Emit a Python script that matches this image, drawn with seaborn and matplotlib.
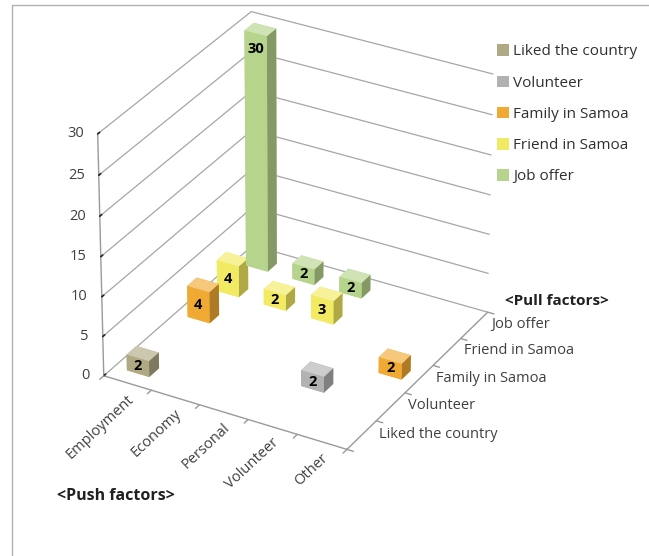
import matplotlib
matplotlib.use("Agg")
import matplotlib.pyplot as plt
from matplotlib.patches import Rectangle, Patch
from matplotlib.transforms import ScaledTranslation
import matplotlib.colors as mcolors
from mpl_toolkits.mplot3d import proj3d
import numpy as np
import pandas as pd
import seaborn as sns

# Categories
push_factors = ["Employment", "Economy", "Personal", "Volunteer", "Other"]
pull_factors = ["Liked the country", "Volunteer", "Family in Samoa",
                "Friend in Samoa", "Job offer"]

# Non-empty cells: push factor, pull factor, number of respondents
bar_push = ["Employment", "Employment", "Employment", "Employment",
            "Economy", "Economy", "Personal", "Personal",
            "Volunteer", "Other"]
bar_pull = ["Liked the country", "Family in Samoa", "Friend in Samoa", "Job offer",
            "Friend in Samoa", "Job offer", "Friend in Samoa", "Job offer",
            "Volunteer", "Family in Samoa"]
counts = [2, 4, 4, 30, 2, 2, 3, 2, 2, 2]

z_ticks = [0, 5, 10, 15, 20, 25, 30]

df = pd.DataFrame({"push": bar_push, "pull": bar_pull, "count": counts})

sns.set_theme(style="white")
plt.rcParams["font.family"] = ["Open Sans", "DejaVu Sans"]

palette = dict(zip(pull_factors, sns.color_palette(
    ["#b0aa84", "#b2b2b2", "#f0aa34", "#f2ea62", "#b7d48c"])))


def mix(c, other, t):
    c = np.array(mcolors.to_rgb(c))
    return tuple(c * (1 - t) + np.array(other) * t)


def face_colors(c):
    # bottom, top, front, back, left, right
    top = mix(c, (1, 1, 1), 0.35)
    front = mcolors.to_rgb(c)
    side = mix(c, (0, 0, 0), 0.28)
    return [front, top, front, front, front, side]


fig = plt.figure(figsize=(6.49, 5.56), dpi=100)
fig.patch.set_facecolor("white")

ax = fig.add_axes([0.0176, 0.081, 0.86, 1.0], projection="3d")
ax.set_proj_type("persp", focal_length=1.5)
ax.view_init(elev=29.8, azim=-60.6)
ax.set_box_aspect((0.93, 1.0, 0.923), zoom=0.862)

ax.set_xlim(0, 5)
ax.set_ylim(0, 5)
ax.set_zlim(0, 30)

bw, bd = 0.47, 0.32
for _, row in df.iterrows():
    xi = push_factors.index(row["push"]) + 0.5
    yi = pull_factors.index(row["pull"]) + 0.5
    h = row["count"]
    ax.bar3d(xi - bw / 2, yi - bd / 2, 0, bw, bd, h,
             color=face_colors(palette[row["pull"]]), shade=False,
             edgecolor="none")

M = ax.get_proj()


def screen_pos(x, y, z):
    px, py, _ = proj3d.proj_transform(x, y, z, M)
    return px, py


def shifted(dx_px, dy_px):
    # pixel offset (y positive = up) on top of the projected data position
    return ax.transData + ScaledTranslation(dx_px / 100, dy_px / 100,
                                            fig.dpi_scale_trans)


# Value labels on the front face of each bar
for _, row in df.iterrows():
    xi = push_factors.index(row["push"]) + 0.5
    yi = pull_factors.index(row["pull"]) + 0.5
    h = row["count"]
    px, py = screen_pos(xi, yi - bd / 2, max(h / 2, h - 2.0))
    ax.text2D(px, py, str(h), transform=ax.transData,
              ha="center", va="center", fontsize=10.5, fontweight="bold",
              color="black", zorder=100)

# Category labels along the two floor axes, value labels up the wall
for i, name in enumerate(push_factors):
    px, py = screen_pos(i + 0.5, 0, 0)
    ax.text2D(px, py, name, transform=shifted(4, -14), rotation=43,
              rotation_mode="anchor", ha="right", va="center",
              fontsize=10.5, color="#404040")
for j, name in enumerate(pull_factors):
    px, py = screen_pos(5, j + 0.5, 0)
    ax.text2D(px, py, name, transform=shifted(17, 1), ha="left",
              va="center", fontsize=10.5, color="#404040")
for t in z_ticks:
    px, py = screen_pos(0, 0, t)
    ax.text2D(px, py, str(t), transform=shifted(-14, 0), ha="right",
              va="center", fontsize=10.5, color="#404040")

# Category ticks sit on the cell boundaries
for k in range(6):
    ax.plot([k, k], [0, -0.13], [0, 0], color="#9a9a9a", lw=1.0)
    ax.plot([5, 5.13], [k, k], [0, 0], color="#9a9a9a", lw=1.0)

ax.set_xticks(np.arange(5) + 0.5)
ax.set_xticklabels([])
ax.set_yticks(np.arange(5) + 0.5)
ax.set_yticklabels([])
ax.set_zticks(z_ticks)
ax.set_zticklabels([])
ax.zaxis.set_ticks_position("lower")
ax.zaxis.set_label_position("lower")

for axis in (ax.xaxis, ax.yaxis, ax.zaxis):
    axis.set_pane_color((1, 1, 1, 0))
    axis.pane.set_edgecolor((1, 1, 1, 0))
    axis.line.set_color("#9a9a9a")
    axis.line.set_linewidth(1.0)
    axis._axinfo["tick"]["inward_factor"] = 0.0
    axis._axinfo["tick"]["color"] = "#9a9a9a"
ax.xaxis._axinfo["tick"]["outward_factor"] = 0.0
ax.yaxis._axinfo["tick"]["outward_factor"] = 0.0
ax.zaxis._axinfo["tick"]["outward_factor"] = 0.15
for axis in (ax.xaxis, ax.yaxis):
    axis._axinfo["grid"]["linewidth"] = 0
    axis._axinfo["grid"]["color"] = (1, 1, 1, 0)
ax.zaxis._axinfo["grid"]["color"] = "#a6a6a6"
ax.zaxis._axinfo["grid"]["linewidth"] = 0.9
ax.grid(True)
ax.set_xlim(0, 5)
ax.set_ylim(0, 5)
ax.set_zlim(0, 30)

# Legend
handles = [Patch(facecolor=palette[p], edgecolor="none", label=p)
           for p in pull_factors]
fig.legend(handles=handles, loc="upper left", bbox_to_anchor=(0.744, 0.945),
           frameon=False, fontsize=11, handlelength=0.8, handleheight=0.8,
           handletextpad=0.3, labelspacing=1.05, labelcolor="#303030")

fig.text(0.088, 0.100, "<Push factors>", fontsize=11.5, fontweight="bold",
         color="#202020")
fig.text(0.778, 0.452, "<Pull factors>", fontsize=11, fontweight="bold",
         color="#202020")

# Thin chart-area border
fig.add_artist(Rectangle((12 / 649, -0.1), 1.2, (556 - 5) / 556 + 0.1,
                         transform=fig.transFigure, fill=False,
                         edgecolor="#b0b0b0", linewidth=1.0))

fig.savefig("out.png", dpi=100, facecolor="white")
